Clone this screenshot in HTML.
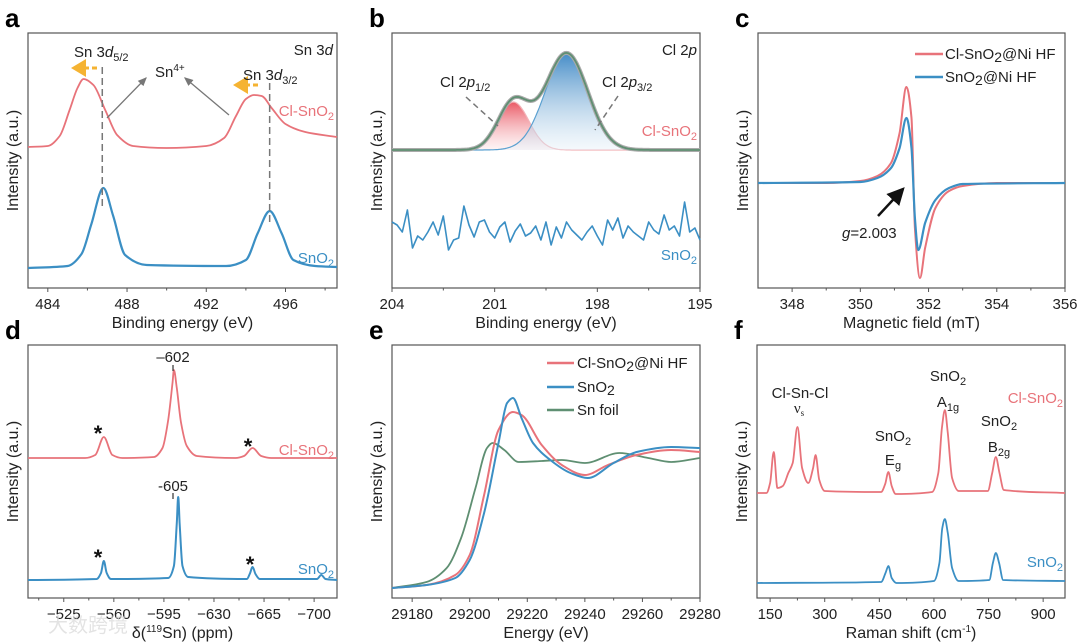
<!DOCTYPE html>
<html><head><meta charset="utf-8"><style>
html,body{margin:0;padding:0;background:#fff;}
svg{display:block;font-family:"Liberation Sans","Noto Sans CJK SC",sans-serif;}
</style></head><body>
<svg id="fig" width="1080" height="643" viewBox="0 0 1080 643" xmlns="http://www.w3.org/2000/svg">
<defs>
<linearGradient id="gRed" x1="0" y1="0" x2="0" y2="1"><stop offset="0" stop-color="#e94f5c" stop-opacity="0.95"/><stop offset="1" stop-color="#fbe3e5" stop-opacity="0.4"/></linearGradient>
<linearGradient id="gBlue" x1="0" y1="0" x2="0" y2="1"><stop offset="0" stop-color="#3b86c4" stop-opacity="0.95"/><stop offset="1" stop-color="#e6f0f8" stop-opacity="0.4"/></linearGradient>
<marker id="arrG" markerWidth="8" markerHeight="8" refX="6" refY="4" orient="auto"><path d="M0,1 L7,4 L0,7 Z" fill="#777"/></marker>
<marker id="arrK" markerWidth="8" markerHeight="8" refX="6" refY="4" orient="auto"><path d="M0,0.5 L7,4 L0,7.5 Z" fill="#111"/></marker>
<marker id="arrO" markerWidth="6" markerHeight="6" refX="4" refY="3" orient="auto"><path d="M0,0 L5,3 L0,6 Z" fill="#f5b332"/></marker>
</defs>
<g id="layer"></g>
</svg>
<script>
// ---------- data ----------
// panel a: XPS Sn 3d  [binding energy eV, intensity]
const aRed = [[483,141],[484,142],[484.6,152],[485.1,178],[485.5,200],[485.8,209],[486.3,203],[486.9,178],[487.5,153],[488.3,142],[490,140],[492,142],[492.9,150],[493.5,172],[494,189],[494.4,193],[494.8,192],[495.3,180],[496,164],[497,156],[498.6,151]];
const aBlue = [[483,20],[485,22],[485.7,34],[486.2,64],[486.8,100],[487.3,72],[487.9,33],[489,23],[493,22],[494,28],[494.6,55],[495.2,77],[495.8,55],[496.4,28],[497.5,22],[498.6,21]];
const aTicks = [484,488,492,496];
const aMinor = [486,490,494,498];
// panel b: Cl 2p fit components [center, height, sigma]
const bBaseline = 138;
const bCenters = [200.45, 198.9];
const bHeights = [48, 97];
const bSigmas = [0.45, 0.62];
const bSnO2 = [66,63,56,78,40,52,48,56,66,53,72,38,48,50,82,63,51,66,68,56,50,61,66,46,57,64,52,55,62,48,66,43,61,50,66,58,53,48,56,62,52,43,68,58,70,50,62,56,52,48,66,58,54,73,58,62,52,86,56,60,48];
const bTicks = [204,201,198,195];
const bMinor = [202.5,199.5,196.5];
// panel c: EPR
const cRed = [[347,105],[349,105],[350,107],[350.5,112],[350.9,125],[351.15,155],[351.35,201],[351.5,170],[351.6,60],[351.75,10],[351.9,40],[352.2,80],[352.6,97],[353,102],[354,105],[356,105]];
const cBlue = [[347,105],[350,106],[350.5,110],[350.9,120],[351.15,140],[351.35,170],[351.5,140],[351.6,70],[351.7,38],[351.9,65],[352.2,88],[352.6,100],[353,104],[356,105]];
const cTicks = [348,350,352,354,356];
const cMinor = [349,351,353,355];
// panel d: 119Sn NMR
const dRed = [[-500,140],[-540,140],[-547,143],[-553,161],[-559,143],[-566,140],[-588,141],[-594,150],[-598,178],[-601,215],[-602,228],[-604,210],[-607,175],[-611,152],[-618,142],[-645,140],[-651,142],[-657,150],[-663,142],[-670,140],[-716,140]];
const dBlue = [[-500,18],[-548,19],[-551,25],[-553,37],[-555,25],[-558,19],[-598,20],[-602,32],[-604,75],[-605,101],[-606,75],[-608,32],[-612,21],[-653,19],[-655,24],[-657,31],[-659,24],[-662,19],[-702,19],[-705,23],[-708,19],[-716,18]];
const dTicks = [-525,-560,-595,-630,-665,-700];
const dMinor = [-507.5,-542.5,-577.5,-612.5,-647.5,-682.5];
// panel e: XANES
const eRed = [[29173,10],[29185,13],[29195,23],[29200,43],[29205,103],[29210,168],[29215,186],[29218,183],[29225,153],[29232,133],[29240,123],[29248,133],[29258,143],[29270,148],[29280,146]];
const eBlue = [[29173,10],[29185,13],[29195,20],[29200,38],[29205,85],[29210,155],[29213,195],[29215,200],[29218,180],[29222,155],[29228,138],[29235,125],[29241,120],[29250,135],[29258,146],[29270,151],[29280,150]];
const eGreen = [[29173,10],[29185,16],[29192,30],[29197,60],[29202,110],[29206,150],[29208,155],[29212,148],[29217,136],[29225,137],[29232,138],[29240,135],[29252,145],[29262,140],[29270,136],[29280,140]];
const eTicks = [29180,29200,29220,29240,29260,29280];
const eMinor = [29190,29210,29230,29250,29270];
// panel f: Raman
const fRed = [[114,105],[140,105],[150,115],[160,146],[170,110],[185,112],[200,125],[212,135],[225,171],[238,130],[255,115],[268,130],[275,143],[285,118],[300,107],[455,106],[466,114],[475,126],[484,112],[495,104],[595,106],[612,125],[622,170],[630,188],[638,165],[650,120],[668,107],[748,107],[760,125],[770,141],[780,125],[792,108],[960,105]];
const fBlue = [[114,15],[455,16],[467,25],[475,32],[484,20],[497,15],[600,17],[615,35],[623,70],[630,79],[638,65],[650,30],[668,17],[752,18],[762,35],[770,45],[779,35],[790,18],[960,17]];
const fTicks = [150,300,450,600,750,900];
const fMinor = [225,375,525,675,825];

// ---------- helpers ----------
const NS = "http://www.w3.org/2000/svg";
const layer = document.getElementById('layer');
const RED = "#e8737a", BLUE = "#3b8fc4", GREEN = "#5f8f72";
function el(tag, attrs, parent) {
  const e = document.createElementNS(NS, tag);
  for (const k in attrs) e.setAttribute(k, attrs[k]);
  (parent || layer).appendChild(e);
  return e;
}
function txt(x, y, s, opts, name) {
  const t = el('text', Object.assign({x: x, y: y, 'font-size': 15, fill: '#222'}, opts || {}));
  t.innerHTML = s;
  
  
  return t;
}
// monotone cubic (Fritsch-Carlson) – no overshoot/loops
function curve(pts) {
  const n = pts.length;
  const dx = [], dy = [], m = [];
  for (let i = 0; i < n - 1; i++) { dx.push(pts[i+1][0] - pts[i][0]); dy.push(pts[i+1][1] - pts[i][1]); m.push(dy[i] / dx[i]); }
  const t = [m[0]];
  for (let i = 1; i < n - 1; i++) {
    if (m[i-1] * m[i] <= 0) t.push(0);
    else { const w1 = 2*dx[i] + dx[i-1], w2 = dx[i] + 2*dx[i-1]; t.push((w1 + w2) / (w1 / m[i-1] + w2 / m[i])); }
  }
  t.push(m[n-2]);
  let d = "M" + pts[0][0].toFixed(1) + "," + pts[0][1].toFixed(1);
  for (let i = 0; i < n - 1; i++) {
    const h = dx[i] / 3;
    d += "C" + (pts[i][0] + h).toFixed(1) + "," + (pts[i][1] + t[i]*h).toFixed(1) + " " + (pts[i+1][0] - h).toFixed(1) + "," + (pts[i+1][1] - t[i+1]*h).toFixed(1) + " " + pts[i+1][0].toFixed(1) + "," + pts[i+1][1].toFixed(1);
  }
  return d;
}
function poly(pts) { return "M" + pts.map(p => p[0].toFixed(1) + "," + p[1].toFixed(1)).join("L"); }
function panel(cfg) {
  const g = el('g', {});
  
  
  const sx = v => cfg.l + (v - cfg.x0) / (cfg.x1 - cfg.x0) * (cfg.r - cfg.l);
  const sy = v => cfg.b - v;
  const frame = el('rect', {x: cfg.l, y: cfg.t, width: cfg.r - cfg.l, height: cfg.b - cfg.t, fill: 'none', stroke: '#555', 'stroke-width': 1.2}, g);
  
  
  cfg.ticks.forEach(v => {
    const tk = el('line', {x1: sx(v), x2: sx(v), y1: cfg.b, y2: cfg.b + 4, stroke: '#555', 'stroke-width': 1}, g);
    
    
    const lb = txt(sx(v), cfg.b + 21, String(v).replace('-', '\u2212'), {'text-anchor': 'middle', 'font-size': 15}, 'x-tick-label');
    g.appendChild(lb);
  });
  cfg.minor.forEach(v => {
    const tk = el('line', {x1: sx(v), x2: sx(v), y1: cfg.b, y2: cfg.b + 2.5, stroke: '#555', 'stroke-width': 1}, g);
    
    
  });
  const xt = txt((cfg.l + cfg.r) / 2, cfg.b + 40, cfg.xtitle, {'text-anchor': 'middle', 'font-size': 16}, 'x-axis-title');
  g.appendChild(xt);
  const yx = cfg.l - 10, yy = (cfg.t + cfg.b) / 2;
  const yt = txt(yx, yy, 'Intensity (a.u.)', {'text-anchor': 'middle', 'font-size': 16, transform: 'rotate(-90 ' + yx + ' ' + yy + ')'}, 'y-axis-title');
  g.appendChild(yt);
  const pl = txt(cfg.l - 23, cfg.t - 6, cfg.letter, {'font-size': 26, 'font-weight': 'bold', fill: '#000'}, 'panel-letter');
  g.appendChild(pl);
  return {g: g, sx: sx, sy: sy};
}
function series(P, data, color, name, w) {
  const p = el('path', {d: curve(data.map(d => [P.sx(d[0]), P.sy(d[1])])), fill: 'none', stroke: color, 'stroke-width': w || 1.8, 'stroke-linejoin': 'round'}, P.g);
  
  
  return p;
}

// ---------- panel a ----------
const A = panel({name: 'panel-a', letter: 'a', l: 28, r: 337, t: 33, b: 288, x0: 483, x1: 498.6, ticks: aTicks, minor: aMinor, xtitle: 'Binding energy (eV)'});
series(A, aRed, RED, 'cl-sno2-sn3d-line');
series(A, aBlue, BLUE, 'sno2-sn3d-line', 2.2);
[[486.75, 67, 210], [495.2, 83, 225]].forEach(v => {
  const l = el('line', {x1: A.sx(v[0]), x2: A.sx(v[0]), y1: v[1], y2: v[2], stroke: '#777', 'stroke-width': 1.5, 'stroke-dasharray': '7,4'}, A.g);
  
  
});
[[97, 68, 74], [258, 85, 236]].forEach(v => {
  const l = el('line', {x1: v[0], x2: v[2], y1: v[1], y2: v[1], stroke: '#f5b332', 'stroke-width': 3, 'stroke-dasharray': '5,3', 'marker-end': 'url(#arrO)'}, A.g);
  
  
});
[[107, 118, 146, 78], [229, 115, 185, 78]].forEach(v => {
  const l = el('line', {x1: v[0], y1: v[1], x2: v[2], y2: v[3], stroke: '#777', 'stroke-width': 1.3, 'marker-end': 'url(#arrG)'}, A.g);
  
  
});
A.g.appendChild(txt(74, 57, 'Sn 3<tspan font-style="italic">d</tspan><tspan font-size="11" dy="4">5/2</tspan>', {}, 'sn3d52-label'));
A.g.appendChild(txt(243, 80, 'Sn 3<tspan font-style="italic">d</tspan><tspan font-size="11" dy="4">3/2</tspan>', {}, 'sn3d32-label'));
A.g.appendChild(txt(155, 77, 'Sn<tspan font-size="10" dy="-6">4+</tspan>', {}, 'sn4-label'));
A.g.appendChild(txt(333, 55, 'Sn 3<tspan font-style="italic">d</tspan>', {'text-anchor': 'end'}, 'panel-title'));
A.g.appendChild(txt(334, 116, 'Cl-SnO<tspan font-size="11" dy="4">2</tspan>', {'text-anchor': 'end', fill: RED}, 'cl-sno2-label'));
A.g.appendChild(txt(334, 263, 'SnO<tspan font-size="11" dy="4">2</tspan>', {'text-anchor': 'end', fill: BLUE}, 'sno2-label'));

// ---------- panel b ----------
const B = panel({name: 'panel-b', letter: 'b', l: 392, r: 700, t: 33, b: 288, x0: 204, x1: 195, ticks: bTicks, minor: bMinor, xtitle: 'Binding energy (eV)'});
const bX = [];
for (let x = 204; x >= 194.99; x -= 0.05) bX.push(x);
const comp = i => bX.map(x => [x, bBaseline + bHeights[i] * Math.exp(-0.5 * Math.pow((x - bCenters[i]) / bSigmas[i], 2))]);
const comps = [comp(0), comp(1)];
const fills = ['url(#gRed)', 'url(#gBlue)'];
const strokes = ['#f2b3b8', '#5aa0d0'];
comps.forEach((c, i) => {
  const pts = c.map(d => [B.sx(d[0]), B.sy(d[1])]);
  const f = el('path', {d: poly(pts) + "Z", fill: fills[i], stroke: 'none'}, B.g);
  
  
  const s = el('path', {d: poly(pts), fill: 'none', stroke: strokes[i], 'stroke-width': 1.2}, B.g);
  
  
});
const env = bX.map((x, k) => [B.sx(x), B.sy(comps[0][k][1] + comps[1][k][1] - bBaseline)]);
const raw = el('path', {d: poly(env), fill: 'none', stroke: '#aaa', 'stroke-width': 4}, B.g);


const envp = el('path', {d: poly(env), fill: 'none', stroke: GREEN, 'stroke-width': 1.8}, B.g);


const bNoise = bSnO2.map((v, i) => [B.sx(204 - i * 9 / (bSnO2.length - 1)), B.sy(v)]);
const bn = el('path', {d: poly(bNoise), fill: 'none', stroke: BLUE, 'stroke-width': 1.6, 'stroke-linejoin': 'round'}, B.g);


[[466, 97, 498, 126], [618, 96, 595, 130]].forEach(v => {
  const l = el('line', {x1: v[0], y1: v[1], x2: v[2], y2: v[3], stroke: '#777', 'stroke-width': 1.5, 'stroke-dasharray': '6,4'}, B.g);
  
  
});
B.g.appendChild(txt(440, 87, 'Cl 2<tspan font-style="italic">p</tspan><tspan font-size="11" dy="4">1/2</tspan>', {}, 'cl2p12-label'));
B.g.appendChild(txt(602, 87, 'Cl 2<tspan font-style="italic">p</tspan><tspan font-size="11" dy="4">3/2</tspan>', {}, 'cl2p32-label'));
B.g.appendChild(txt(697, 55, 'Cl 2<tspan font-style="italic">p</tspan>', {'text-anchor': 'end'}, 'panel-title'));
B.g.appendChild(txt(697, 136, 'Cl-SnO<tspan font-size="11" dy="4">2</tspan>', {'text-anchor': 'end', fill: RED}, 'cl-sno2-label'));
B.g.appendChild(txt(697, 260, 'SnO<tspan font-size="11" dy="4">2</tspan>', {'text-anchor': 'end', fill: BLUE}, 'sno2-label'));

// ---------- panel c ----------
const C = panel({name: 'panel-c', letter: 'c', l: 758, r: 1065, t: 33, b: 288, x0: 347, x1: 356, ticks: cTicks, minor: cMinor, xtitle: 'Magnetic field (mT)'});
series(C, cRed, RED, 'cl-sno2-epr-line', 2);
series(C, cBlue, BLUE, 'sno2-epr-line', 2.2);
[[RED, 'Cl-SnO<tspan font-size="14" dy="3">2</tspan><tspan dy="-3">@Ni HF</tspan>', 54], [BLUE, 'SnO<tspan font-size="14" dy="3">2</tspan><tspan dy="-3">@Ni HF</tspan>', 77]].forEach(v => {
  const l = el('line', {x1: 915, x2: 943, y1: v[2], y2: v[2], stroke: v[0], 'stroke-width': 2.5}, C.g);
  
  
  C.g.appendChild(txt(945, v[2] + 5, v[1], {}, 'legend-entry'));
});
const ca = el('line', {x1: 878, y1: 216, x2: 903, y2: 189, stroke: '#111', 'stroke-width': 2.5, 'marker-end': 'url(#arrK)'}, C.g);


C.g.appendChild(txt(842, 238, '<tspan font-style="italic">g</tspan>=2.003', {}, 'g-value-label'));

// ---------- panel d ----------
const D = panel({name: 'panel-d', letter: 'd', l: 28, r: 337, t: 345, b: 598, x0: -500, x1: -716, ticks: dTicks, minor: dMinor, xtitle: 'δ(<tspan font-size="10" dy="-6">119</tspan><tspan dy="6">Sn) (ppm)</tspan>'});
series(D, dRed, RED, 'cl-sno2-nmr-line');
series(D, dBlue, BLUE, 'sno2-nmr-line', 2);
D.g.appendChild(txt(173, 362, '\u2013602', {'text-anchor': 'middle'}, 'peak-label'));
D.g.appendChild(txt(173, 491, '-605', {'text-anchor': 'middle'}, 'peak-label'));
[[173, 365, 371], [173, 493, 499]].forEach(v => {
  const l = el('line', {x1: v[0], x2: v[0], y1: v[1], y2: v[2], stroke: '#333', 'stroke-width': 1.2}, D.g);
  
  
});
[[98, 441], [248, 454], [98, 565], [250, 572]].forEach(v => D.g.appendChild(txt(v[0], v[1], '*', {'text-anchor': 'middle', 'font-size': 22, 'font-weight': 'bold', fill: '#111'}, 'sideband-star')));
D.g.appendChild(txt(334, 455, 'Cl-SnO<tspan font-size="11" dy="4">2</tspan>', {'text-anchor': 'end', fill: RED}, 'cl-sno2-label'));
D.g.appendChild(txt(334, 574, 'SnO<tspan font-size="11" dy="4">2</tspan>', {'text-anchor': 'end', fill: BLUE}, 'sno2-label'));

// ---------- panel e ----------
const E = panel({name: 'panel-e', letter: 'e', l: 392, r: 700, t: 345, b: 598, x0: 29173, x1: 29280, ticks: eTicks, minor: eMinor, xtitle: 'Energy (eV)'});
series(E, eGreen, GREEN, 'sn-foil-xanes-line');
series(E, eRed, RED, 'cl-sno2-xanes-line', 2);
series(E, eBlue, BLUE, 'sno2-xanes-line', 2);
[[RED, 'Cl-SnO<tspan font-size="14" dy="3">2</tspan><tspan dy="-3">@Ni HF</tspan>', 363], [BLUE, 'SnO<tspan font-size="14" dy="3">2</tspan>', 387], [GREEN, 'Sn foil', 410]].forEach(v => {
  const l = el('line', {x1: 547, x2: 574, y1: v[2], y2: v[2], stroke: v[0], 'stroke-width': 2.5}, E.g);
  
  
  E.g.appendChild(txt(577, v[2] + 5, v[1], {}, 'legend-entry'));
});

// ---------- panel f ----------
const F = panel({name: 'panel-f', letter: 'f', l: 757, r: 1065, t: 345, b: 598, x0: 114, x1: 960, ticks: fTicks, minor: fMinor, xtitle: 'Raman shift (cm<tspan font-size="10" dy="-6">-1</tspan><tspan dy="6">)</tspan>'});
series(F, fRed, RED, 'cl-sno2-raman-line');
series(F, fBlue, BLUE, 'sno2-raman-line');
F.g.appendChild(txt(800, 398, 'Cl-Sn-Cl', {'text-anchor': 'middle'}, 'cl-sn-cl-label'));
F.g.appendChild(txt(799, 413, 'ν<tspan font-size="9" dy="3">s</tspan>', {'text-anchor': 'middle', 'font-family': 'Liberation Serif, serif'}, 'vs-label'));
F.g.appendChild(txt(893, 441, 'SnO<tspan font-size="11" dy="4">2</tspan>', {'text-anchor': 'middle'}, 'eg-sno2-label'));
F.g.appendChild(txt(893, 465, 'E<tspan font-size="11" dy="4">g</tspan>', {'text-anchor': 'middle'}, 'eg-label'));
F.g.appendChild(txt(948, 381, 'SnO<tspan font-size="11" dy="4">2</tspan>', {'text-anchor': 'middle'}, 'a1g-sno2-label'));
F.g.appendChild(txt(948, 407, 'A<tspan font-size="11" dy="4">1g</tspan>', {'text-anchor': 'middle'}, 'a1g-label'));
F.g.appendChild(txt(999, 426, 'SnO<tspan font-size="11" dy="4">2</tspan>', {'text-anchor': 'middle'}, 'b2g-sno2-label'));
F.g.appendChild(txt(999, 452, 'B<tspan font-size="11" dy="4">2g</tspan>', {'text-anchor': 'middle'}, 'b2g-label'));
F.g.appendChild(txt(1063, 403, 'Cl-SnO<tspan font-size="11" dy="4">2</tspan>', {'text-anchor': 'end', fill: RED}, 'cl-sno2-label'));
F.g.appendChild(txt(1063, 567, 'SnO<tspan font-size="11" dy="4">2</tspan>', {'text-anchor': 'end', fill: BLUE}, 'sno2-label'));

// watermark
const wm = txt(48, 632, '大数跨境', {'font-size': 20, fill: '#ddd', opacity: 0.8}, 'watermark');
</script>
</body></html>
